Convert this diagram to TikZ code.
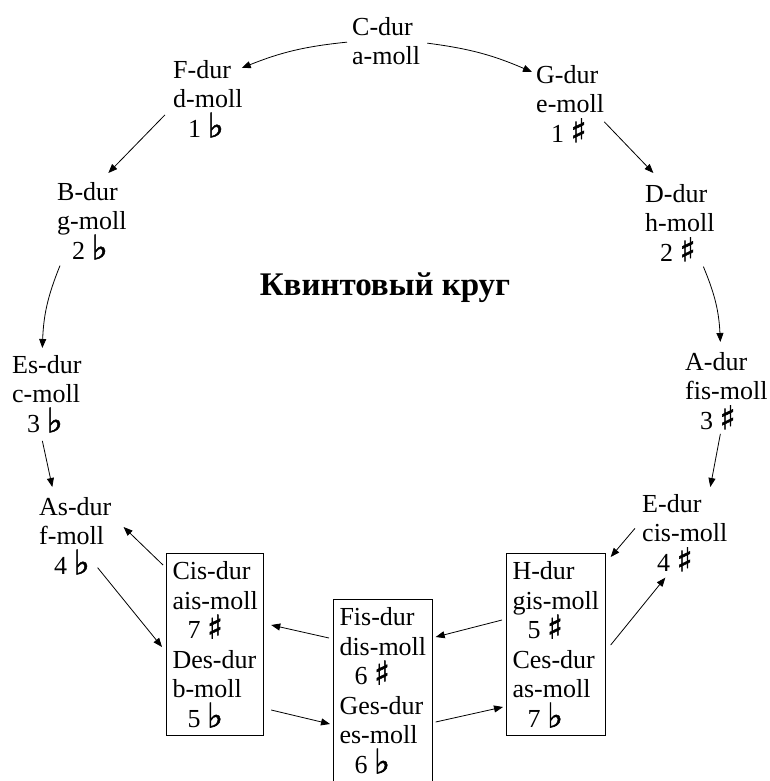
\documentclass[tikz,border=0pt]{standalone}
\usepackage{fontspec}
\setmainfont{Liberation Serif}
\newfontfamily\symfont{DejaVu Sans}[FakeBold=1.5]
\usetikzlibrary{arrows.meta}
\newcommand\bemol{\smash{\symfont\fontsize{34}{30}\selectfont ♭}}
\newcommand\diez{\smash{\symfont\fontsize{33}{30}\selectfont ♯}}
\newcommand\kb[1]{\hspace*{15pt}#1 \bemol}
\newcommand\kd[1]{\hspace*{15pt}#1 \diez}
\tikzset{
  key/.style={align=left,inner sep=0pt,anchor=north west,font=\fontsize{26}{29.6}\selectfont},
  keybox/.style={key,draw,line width=1pt,inner xsep=6pt,inner ysep=8pt},
  link/.style={-{Triangle[length=9pt,width=7pt]},line width=0.8pt},
}
\begin{document}
\begin{tikzpicture}[x=1pt,y=-1pt]
  \useasboundingbox (0,0) rectangle (770,781);
  \clip (0,0) rectangle (770,781);
  % 标题
  \node[font=\fontsize{33}{38}\selectfont\bfseries,anchor=base] (title) at (385,295) {Квинтовый круг};
  % 圆周上的调
  \foreach \nm/\x/\y/\txt in {
    C/352/17/{C-dur\\a-moll},
    F/173/60/{F-dur\\d-moll\\\kb{1}},
    G/536/65/{G-dur\\e-moll\\\kd{1}},
    B/57/182/{B-dur\\g-moll\\\kb{2}},
    D/645/184/{D-dur\\h-moll\\\kd{2}},
    Es/12/355/{Es-dur\\c-moll\\\kb{3}},
    A/685/352/{A-dur\\fis-moll\\\kd{3}},
    As/39/497/{As-dur\\f-moll\\\kb{4}},
    E/642/494/{E-dur\\cis-moll\\\kd{4}}}
    \node[key] (\nm) at (\x,\y) {\txt};
  % 等音调（方框）
  \node[keybox] (Cis) at (166,553) {Cis-dur\\ais-moll\\\kd{7}\\Des-dur\\b-moll\\\kb{5}};
  \node[keybox] (Fis) at (333,599) {Fis-dur\\dis-moll\\\kd{6}\\Ges-dur\\es-moll\\\kb{6}};
  \node[keybox] (H) at (506,553) {H-dur\\gis-moll\\\kd{5}\\Ces-dur\\as-moll\\\kb{7}};
  % 升号方向与降号方向的箭头
  \draw[link] ([shift={(-5,1)}]C.west) to[bend right=8] ([shift={(-1,8)}]F.north east);
  \draw[link] ([shift={(7,2)}]C.east) to[bend left=8] ([shift={(-4,7)}]G.north west);
  \draw[link] ([shift={(-8,16)}]F.west) -- ([shift={(16.5,-9)}]B.north);
  \draw[link] ([shift={(0,18)}]G.east) -- ([shift={(-26.5,-11)}]D.north);
  \draw[link] ([shift={(3,6)}]B.south west) to[bend right=10] ([shift={(-4.5,-7)}]Es.north);
  \draw[link] ([shift={(23.5,5)}]D.south) to[bend left=10] ([shift={(-6,-10)}]A.north);
  \draw[link] ([shift={(-4.5,8)}]Es.south) -- ([shift={(-23,-10)}]As.north);
  \draw[link] ([shift={(-6,4)}]A.south) -- ([shift={(25.5,-7)}]E.north);
  \draw[link] ([shift={(-7,-4.5)}]E.west) -- ([shift={(5,4)}]H.north east);
  \draw[link] ([shift={(-4,67)}]H.north west) -- ([shift={(3,38)}]Fis.north east);
  \draw[link] ([shift={(-4,39)}]Fis.north west) -- ([shift={(7,72)}]Cis.north east);
  \draw[link] ([shift={(-3,12)}]Cis.north west) -- ([shift={(12,30)}]As.north east);
  % 下方的回路
  \draw[link] ([shift={(-14,-7)}]As.south east) -- ([shift={(-4,94)}]Cis.north west);
  \draw[link] ([shift={(7,157)}]Cis.north east) -- ([shift={(-3,125)}]Fis.north west);
  \draw[link] ([shift={(3,123)}]Fis.north east) -- ([shift={(-3,154)}]H.north west);
  \draw[link] ([shift={(5,92)}]H.north east) -- ([shift={(-19.5,6)}]E.south);
\end{tikzpicture}
\end{document}
